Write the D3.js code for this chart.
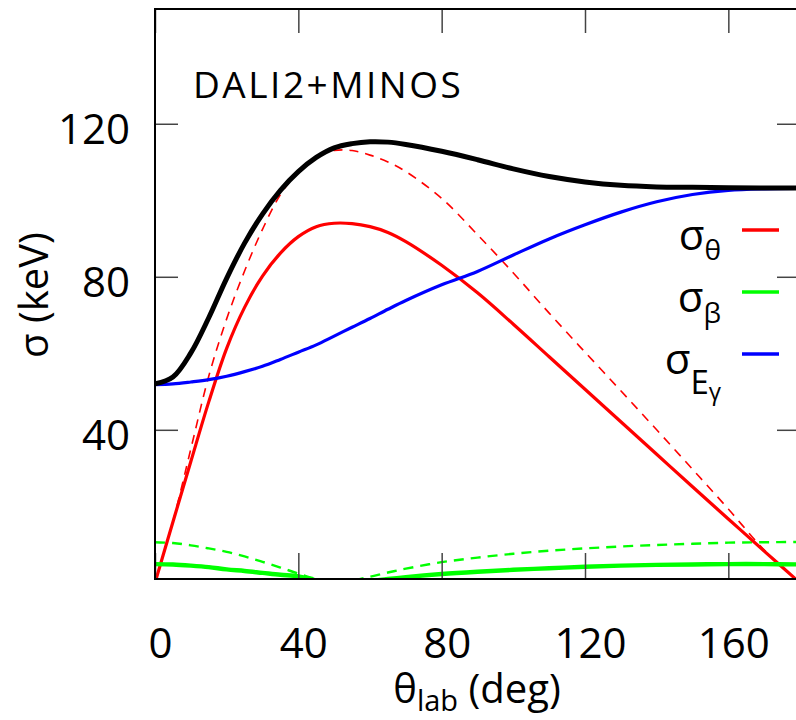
<!DOCTYPE html>
<html>
<head>
<meta charset="utf-8">
<script src="https://cdn.jsdelivr.net/npm/d3@7"></script>
<style>
  html, body { margin: 0; padding: 0; background: #fff; }
  svg { display: block; }
  text { font-family: "Open Sans", "Noto Sans", sans-serif; fill: #000; }
</style>
</head>
<body>
<div id="chart"></div>
<script>
// Lab angle grid (deg)
const theta = [0, 5, 10, 15, 20, 25, 30, 35, 40, 45, 50, 55, 60, 65, 70, 80, 90, 100, 110, 120, 130, 140, 150, 160, 170, 180];

// Resolution contributions (keV)
const sigmaTotal    = [52, 53.8, 60.1, 69.3, 79.6, 88.8, 96.4, 102.6, 107.5, 111.2, 113.7, 114.8, 115.3, 115.2, 114.6, 112.8, 110.6, 108.2, 106.2, 104.8, 103.9, 103.5, 103.4, 103.3, 103.2, 103.2];
const sigmaTheta    = [0, 15.9, 31.7, 47.3, 61.3, 72, 80.2, 86.2, 90.5, 93.1, 94, 93.9, 93.1, 91.6, 89.2, 83, 75.8, 67.6, 59.1, 50.6, 42.1, 33.6, 25.1, 16.7, 8.3, 0];
const sigmaThetaAlt = [0, 16, 35, 54, 69, 81.5, 92.4, 101.5, 107.5, 111.3, 113, 113, 111.8, 110, 107.5, 100.5, 91, 81, 70.5, 60.3, 50.2, 40, 29.7, 19.3, 8.6, 0];
const sigmaBeta     = [4.9, 4.8, 4.5, 4.1, 3.5, 3.1, 2.6, 2.1, 1.7, 0.6, 0.1, 0, 0.4, 1.0, 1.5, 2.3, 2.9, 3.4, 3.8, 4.2, 4.5, 4.7, 4.8, 4.9, 4.9, 4.8];
const sigmaBetaAlt  = [10.6, 10.4, 9.8, 9.0, 8.1, 6.9, 5.5, 4.0, 2.4, 1.0, 0.2, 0.6, 1.6, 2.7, 3.7, 5.4, 6.6, 7.6, 8.4, 9.0, 9.5, 9.9, 10.2, 10.5, 10.6, 10.7];
const sigmaEgamma   = [51.8, 52, 52.5, 53.1, 54, 55.2, 56.6, 58.4, 60.3, 62.2, 64.5, 66.8, 69.1, 71.5, 73.8, 77.9, 81.4, 85.7, 89.9, 93.6, 96.9, 99.6, 101.5, 102.6, 103, 103.1];

const xTicks = [0, 40, 80, 120, 160];
const yTicks = [40, 80, 120];

const W = 796, H = 720;
const plot = { left: 155, right: 800, top: 9, bottom: 579 };

const svg = d3.select("#chart").append("svg")
  .attr("width", W).attr("height", H);

const x = d3.scaleLinear().domain([0, 180]).range([plot.left, plot.right]);
const y = d3.scaleLinear().domain([1, 150]).range([plot.bottom, plot.top]);

svg.append("clipPath").attr("id", "plot-clip")
  .append("rect")
  .attr("x", plot.left).attr("y", plot.top)
  .attr("width", plot.right - plot.left).attr("height", plot.bottom - plot.top);

const line = d3.line()
  .x((d, i) => x(theta[i]))
  .y(d => y(d))
  .curve(d3.curveCatmullRom.alpha(0.5));

const curves = svg.append("g").attr("clip-path", "url(#plot-clip)");

const series = [
  { data: sigmaThetaAlt, color: "#ff0000", width: 1.6, dash: "9,7" },
  { data: sigmaBetaAlt,  color: "#00ff00", width: 2.4, dash: "10,7" },
  { data: sigmaTheta,    color: "#ff0000", width: 3.2, dash: null },
  { data: sigmaBeta,     color: "#00ff00", width: 4.4, dash: null },
  { data: sigmaEgamma,   color: "#0000ff", width: 3.2, dash: null },
  { data: sigmaTotal,    color: "#000000", width: 5,   dash: null }
];

series.forEach(s => {
  curves.append("path")
    .datum(s.data)
    .attr("d", line)
    .attr("fill", "none")
    .attr("stroke", s.color)
    .attr("stroke-width", s.width)
    .attr("stroke-dasharray", s.dash)
    .attr("stroke-linejoin", "round");
});

// Axes with inward ticks, mirrored on top and right
function styleAxis(g) {
  g.select(".domain").remove();
  g.selectAll(".tick line").attr("stroke", "#444").attr("stroke-width", 1.5);
}

const xAxis = svg.append("g")
  .attr("transform", `translate(0,${plot.bottom})`)
  .call(d3.axisBottom(x).tickValues(xTicks).tickSize(-26).tickFormat(d3.format("d")));
styleAxis(xAxis);
xAxis.selectAll(".tick text")
  .attr("x", 5).attr("y", 79).attr("dy", null)
  .attr("font-size", 42).attr("font-family", "Open Sans").attr("fill", "#000");

const xTop = svg.append("g")
  .attr("transform", `translate(0,${plot.top})`)
  .call(d3.axisTop(x).tickValues(xTicks).tickSize(-24).tickFormat(""));
styleAxis(xTop);

const yAxis = svg.append("g")
  .attr("transform", `translate(${plot.left},0)`)
  .call(d3.axisLeft(y).tickValues(yTicks).tickSize(-23).tickFormat(d3.format("d")));
styleAxis(yAxis);
yAxis.selectAll(".tick text")
  .attr("x", -25).attr("dy", 20)
  .attr("font-size", 42).attr("font-family", "Open Sans").attr("fill", "#000");

const yRight = svg.append("g")
  .attr("transform", `translate(${plot.right},0)`)
  .call(d3.axisRight(y).tickValues(yTicks).tickSize(-23).tickFormat(""));
styleAxis(yRight);

// Frame
svg.append("rect")
  .attr("x", plot.left).attr("y", plot.top)
  .attr("width", plot.right - plot.left).attr("height", plot.bottom - plot.top)
  .attr("fill", "none").attr("stroke", "#000").attr("stroke-width", 2);

// Axis titles
const xt = svg.append("text")
  .attr("x", 477).attr("y", 703)
  .attr("text-anchor", "middle")
  .attr("font-size", 40);
xt.append("tspan").text("θ");
xt.append("tspan").attr("font-size", 29).attr("dy", 8).text("lab");
xt.append("tspan").attr("dy", -8).text(" (deg)");

svg.append("text")
  .attr("transform", "translate(48,295) rotate(-90)")
  .attr("text-anchor", "middle")
  .attr("font-size", 40)
  .text("σ (keV)");

// Label
svg.append("text")
  .attr("x", 193).attr("y", 98)
  .attr("font-size", 37)
  .attr("letter-spacing", 2.5)
  .text("DALI2+MINOS");

// Legend
const legend = [
  { color: "#ff0000", sub: [{ t: "θ", size: 28, dy: 10 }] },
  { color: "#00ff00", sub: [{ t: "β", size: 28, dy: 11 }] },
  { color: "#0000ff", sub: [{ t: "E", size: 33, dy: 20 }, { t: "γ", size: 24, dy: 6 }] }
];
const legendTop = 230, legendStep = 62;

legend.forEach((d, i) => {
  const ly = legendTop + i * legendStep;
  svg.append("line")
    .attr("x1", 742).attr("x2", 779)
    .attr("y1", ly).attr("y2", ly)
    .attr("stroke", d.color).attr("stroke-width", 3.5);
  const t = svg.append("text")
    .attr("x", 721).attr("y", ly + 20)
    .attr("text-anchor", "end")
    .attr("font-size", 42);
  t.append("tspan").text("σ");
  d.sub.forEach(s => {
    t.append("tspan").attr("font-size", s.size).attr("dy", s.dy).text(s.t);
  });
});
</script>
</body>
</html>
